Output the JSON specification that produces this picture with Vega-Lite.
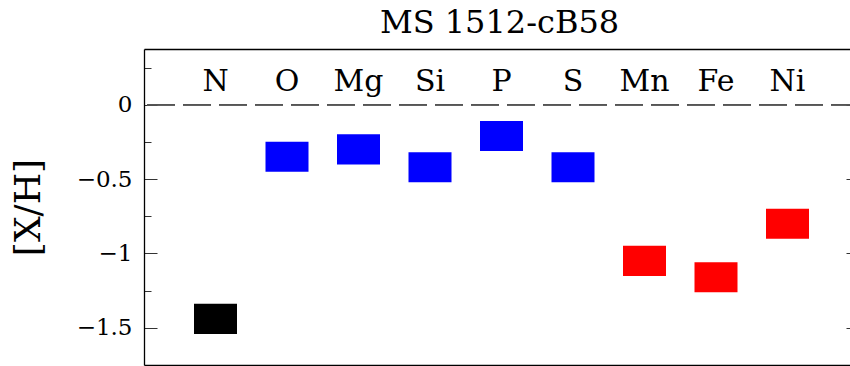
{
  "$schema": "https://vega.github.io/schema/vega-lite/v6.json",
  "autosize": "none",
  "width": 715,
  "height": 316,
  "padding": {"left": 144, "right": -9, "top": 49, "bottom": 1},
  "background": "white",
  "config": {
    "view": {"stroke": null},
    "font": "DejaVu Serif"
  },
  "title": {
    "text": "MS 1512-cB58",
    "font": "DejaVu Serif",
    "fontSize": 32,
    "fontWeight": "normal",
    "color": "black",
    "baseline": "alphabetic",
    "offset": -16,
    "dx": -2
  },
  "data": {
    "values": [
      {"el": "N", "xh": -1.44, "grp": "N"},
      {"el": "O", "xh": -0.35, "grp": "light"},
      {"el": "Mg", "xh": -0.30, "grp": "light"},
      {"el": "Si", "xh": -0.42, "grp": "light"},
      {"el": "P", "xh": -0.21, "grp": "light"},
      {"el": "S", "xh": -0.42, "grp": "light"},
      {"el": "Mn", "xh": -1.05, "grp": "iron-peak"},
      {"el": "Fe", "xh": -1.16, "grp": "iron-peak"},
      {"el": "Ni", "xh": -0.80, "grp": "iron-peak"}
    ]
  },
  "resolve": {"axis": {"x": "independent", "y": "independent"}},
  "layer": [
    {
      "mark": {
        "type": "point",
        "shape": "M-1,-0.7L1,-0.7L1,0.7L-1,0.7Z",
        "size": 1849,
        "filled": true,
        "opacity": 1,
        "strokeWidth": 0
      },
      "encoding": {
        "x": {
          "field": "el",
          "type": "nominal",
          "sort": null,
          "scale": {"type": "point", "padding": 1},
          "axis": {
            "orient": "bottom",
            "title": null,
            "labels": false,
            "ticks": false,
            "grid": false,
            "domain": true,
            "domainColor": "black",
            "domainWidth": 1.3
          }
        },
        "y": {
          "field": "xh",
          "type": "quantitative",
          "scale": {"domain": [-1.75, 0.375], "nice": false, "zero": false},
          "axis": {
            "orient": "left",
            "title": "[X/H]",
            "titleFont": "DejaVu Serif",
            "titleFontSize": 36,
            "titleFontWeight": "normal",
            "titleColor": "black",
            "titlePadding": 29,
            "values": [0.25, 0, -0.25, -0.5, -0.75, -1, -1.25, -1.5],
            "format": "~g",
            "labelExpr": "datum.value % 0.5 === 0 ? datum.label : ''",
            "labelFont": "DejaVu Serif",
            "labelFontSize": 23,
            "labelColor": "black",
            "labelPadding": 25,
            "grid": false,
            "domain": true,
            "domainColor": "black",
            "domainWidth": 1.3,
            "ticks": true,
            "tickColor": "#333333",
            "tickWidth": 1,
            "tickSize": {"condition": {"test": "datum.value % 0.5 === 0", "value": -13}, "value": -7}
          }
        },
        "color": {
          "field": "grp",
          "type": "nominal",
          "scale": {"domain": ["N", "light", "iron-peak"], "range": ["#000000", "#0000ff", "#ff0000"]},
          "legend": null
        }
      }
    },
    {
      "mark": {
        "type": "text",
        "font": "DejaVu Serif",
        "fontSize": 30,
        "color": "black",
        "baseline": "alphabetic",
        "align": "center"
      },
      "encoding": {
        "x": {
          "field": "el",
          "type": "nominal",
          "sort": null,
          "axis": {
            "orient": "top",
            "title": null,
            "labels": false,
            "ticks": false,
            "grid": false,
            "domain": true,
            "domainColor": "black",
            "domainWidth": 1.3
          }
        },
        "y": {"datum": 0.09, "type": "quantitative", "axis": null},
        "text": {"field": "el"}
      }
    },
    {
      "mark": {"type": "rule", "color": "#555555", "strokeWidth": 1.2, "strokeDash": [28, 8]},
      "encoding": {
        "y": {
          "datum": 0,
          "type": "quantitative",
          "axis": {
            "orient": "right",
            "title": null,
            "labels": false,
            "domain": false,
            "grid": false,
            "values": [0.25, 0, -0.25, -0.5, -0.75, -1, -1.25, -1.5],
            "ticks": true,
            "tickColor": "#333333",
            "tickWidth": 1,
            "tickSize": {"condition": {"test": "datum.value % 0.5 === 0", "value": -13}, "value": -7}
          }
        }
      }
    }
  ]
}
